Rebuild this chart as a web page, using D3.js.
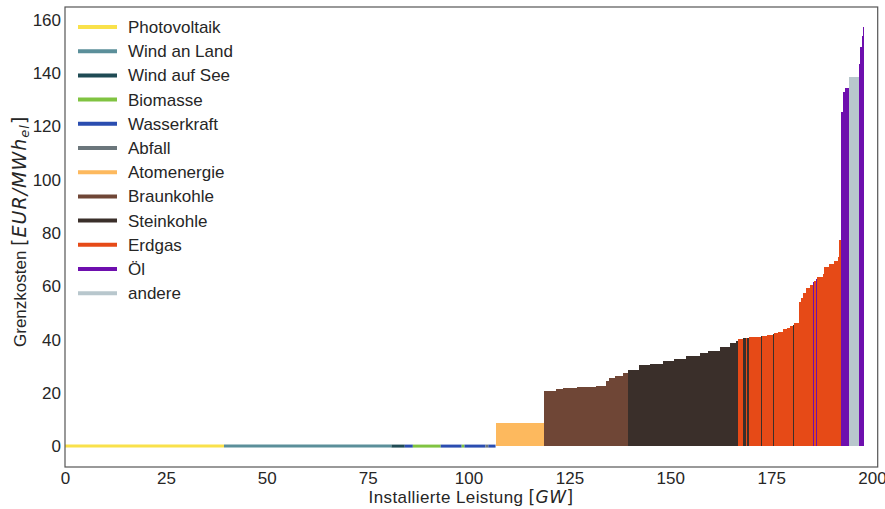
<!DOCTYPE html>
<html>
<head>
<meta charset="utf-8">
<script src="https://cdn.jsdelivr.net/npm/d3@7"></script>
<style>
  html, body { margin: 0; padding: 0; background: #fff; }
  svg { display: block; font-family: "Liberation Sans", Arial, sans-serif; }
</style>
</head>
<body>
<svg id="chart" width="885" height="509"></svg>
<script>
// Energy sources in merit order legend order, with their fill colours
const fuels = ["Photovoltaik", "Wind an Land", "Wind auf See", "Biomasse", "Wasserkraft",
  "Abfall", "Atomenergie", "Braunkohle", "Steinkohle", "Erdgas", "Öl", "andere"];
const fuelColors = ["#f9e14b", "#5b8f9a", "#1f4b54", "#80c341", "#2a4db0",
  "#6b767b", "#fdb95e", "#6f4636", "#3a2f2a", "#e64a17", "#6e0fae", "#b8c7cd"];

// Power plant blocks sorted by marginal cost: fuel, capacity [GW], marginal cost [EUR/MWh_el]
const blockFuel = [
  "Photovoltaik", "Wind an Land", "Wind auf See", "Wasserkraft", "Biomasse", "Wasserkraft",
  "Biomasse", "Wasserkraft", "Abfall", "Wasserkraft",
  "Atomenergie",
  "Braunkohle", "Braunkohle", "Braunkohle", "Braunkohle", "Braunkohle", "Braunkohle",
  "Braunkohle", "Braunkohle", "Braunkohle",
  "Steinkohle", "Steinkohle", "Steinkohle", "Steinkohle", "Steinkohle", "Steinkohle",
  "Steinkohle", "Steinkohle", "Steinkohle", "Steinkohle", "Steinkohle",
  "Erdgas", "Steinkohle", "Erdgas", "Steinkohle",
  "Erdgas", "Erdgas", "Steinkohle", "Erdgas", "Erdgas", "Steinkohle", "Erdgas", "Erdgas",
  "Erdgas", "Erdgas", "Erdgas", "Steinkohle", "Erdgas", "Erdgas", "Erdgas", "Erdgas",
  "Erdgas", "Erdgas", "Öl", "Erdgas", "Öl", "Erdgas", "Erdgas", "Erdgas", "Erdgas",
  "Erdgas", "Erdgas", "Erdgas",
  "Öl", "Öl", "Öl", "andere", "Öl", "Öl", "Öl", "Öl"
];
const blockCapacity = [
  39.4, 41.5, 3.3, 2.0, 6.9, 5.2,
  0.7, 5.2, 0.7, 1.8,
  12.0,
  3.0, 1.6, 3.6, 4.8, 2.4, 0.8,
  1.5, 2.0, 1.2,
  2.6, 2.7, 3.3, 2.7, 3.1, 3.3,
  2.0, 2.9, 2.5, 1.7, 0.5,
  1.2, 0.7, 0.3, 0.4,
  1.5, 1.5, 0.25, 1.25, 1.4, 0.25, 1.15, 1.1,
  0.9, 0.8, 0.9, 0.25, 1.15, 0.4, 0.6, 0.8,
  0.8, 0.8, 0.25, 0.55, 0.25, 1.45, 0.4, 1.2,
  1.2, 0.9, 0.4, 0.4,
  0.5, 0.6, 1.0, 2.4, 0.3, 0.3, 0.3, 0.4
];
const blockCost = [
  0, 0, 0, 0, 0, 0,
  0, 0, 0, 0,
  8.5,
  20.7, 21.3, 21.8, 22.2, 22.6, 24.3,
  25.6, 26.4, 27.4,
  28.6, 30.3, 31.0, 32.0, 32.8, 33.8,
  34.8, 35.8, 37.3, 38.6, 39.5,
  40.3, 40.5, 40.6, 40.7,
  40.8, 41.0, 41.2, 41.4, 41.8, 42.0, 42.3, 43.0,
  43.8, 44.4, 45.2, 45.6, 46.3, 54.2, 55.6, 57.5,
  59.2, 60.6, 61.6, 62.0, 62.6, 63.3, 64.5, 67.3,
  68.3, 69.5, 71.0, 77.5,
  125.6, 132.8, 134.4, 138.4, 143.5, 150.0, 154.0, 157.3
];

// Axis ticks
const xTicks = [0, 25, 50, 75, 100, 125, 150, 175, 200];
const yTicks = [0, 20, 40, 60, 80, 100, 120, 140, 160];

const colorOf = d3.scaleOrdinal(fuels, fuelColors);

// Cumulative capacity gives each block its start position on the x axis
let cum = 0;
const blocks = blockFuel.map((f, i) => {
  const b = { fuel: f, x0: cum, x1: cum + blockCapacity[i], cost: blockCost[i] };
  cum += blockCapacity[i];
  return b;
});

const svg = d3.select("#chart");
const plotLeft = 65, plotRight = 877.7, plotTop = 7, plotBottom = 467;
const textColor = "#262626";
const mathFont = "'DejaVu Sans', sans-serif";

const x = d3.scaleLinear([0, 201.4], [plotLeft, plotRight]);
const y = d3.scaleLinear([-7.85, 164.85], [plotBottom, plotTop]);

// Filled step blocks
svg.append("g")
  .attr("shape-rendering", "crispEdges")
  .selectAll("rect")
  .data(blocks)
  .join("rect")
  .attr("x", d => x(d.x0))
  .attr("width", d => Math.max(1, x(d.x1) - x(d.x0)))
  .attr("y", d => y(d.cost))
  .attr("height", d => y(0) - y(d.cost))
  .attr("fill", d => colorOf(d.fuel));

// Zero-cost blocks show up as a line along the cost axis origin
svg.append("g")
  .selectAll("line")
  .data(blocks.filter(d => d.cost === 0))
  .join("line")
  .attr("x1", d => x(d.x0))
  .attr("x2", d => x(d.x1))
  .attr("y1", d => y(d.cost))
  .attr("y2", d => y(d.cost))
  .attr("stroke", d => colorOf(d.fuel))
  .attr("stroke-width", 3);

// Axes without tick marks
const xAxis = svg.append("g")
  .attr("transform", `translate(0,${plotBottom})`)
  .call(d3.axisBottom(x).tickValues(xTicks).tickSize(0).tickPadding(5));
const yAxis = svg.append("g")
  .attr("transform", `translate(${plotLeft},0)`)
  .call(d3.axisLeft(y).tickValues(yTicks).tickSize(0).tickPadding(4));
[xAxis, yAxis].forEach(g => {
  g.select(".domain").remove();
  g.selectAll("text")
    .attr("font-size", 17)
    .attr("font-family", "'Liberation Sans', Arial, sans-serif")
    .attr("fill", textColor);
});

// Frame
svg.append("rect")
  .attr("x", plotLeft).attr("y", plotTop)
  .attr("width", plotRight - plotLeft).attr("height", plotBottom - plotTop)
  .attr("fill", "none")
  .attr("stroke", "#555")
  .attr("stroke-width", 1.2);

// Axis labels
const xLabel = svg.append("text")
  .attr("x", 471).attr("y", 503)
  .attr("text-anchor", "middle")
  .attr("font-size", 17)
  .attr("letter-spacing", 0.4)
  .attr("fill", textColor);
xLabel.append("tspan").text("Installierte Leistung ");
xLabel.append("tspan").attr("font-family", mathFont).text("[");
xLabel.append("tspan").attr("font-family", mathFont).attr("font-style", "italic").text("GW");
xLabel.append("tspan").attr("font-family", mathFont).text("]");

const yLabel = svg.append("text")
  .attr("transform", "translate(26,347) rotate(-90)")
  .attr("text-anchor", "start")
  .attr("font-size", 17)
  .attr("fill", textColor);
yLabel.append("tspan").text("Grenzkosten ");
const yMath = yLabel.append("tspan")
  .attr("font-family", mathFont)
  .attr("font-size", 19)
  .attr("letter-spacing", 1);
yMath.append("tspan").text("[");
yMath.append("tspan").attr("font-style", "italic").text("EUR/MWh");
yMath.append("tspan").attr("font-style", "italic").attr("font-size", 13).attr("dy", 3).text("el");
yMath.append("tspan").attr("dy", -3).text("]");

// Legend
const legend = svg.append("g");
const rows = legend.selectAll("g")
  .data(fuels)
  .join("g")
  .attr("transform", (d, i) => `translate(0,${27 + i * 24.2})`);
rows.append("line")
  .attr("x1", 78).attr("x2", 117)
  .attr("stroke", d => colorOf(d))
  .attr("stroke-width", 4);
rows.append("text")
  .attr("x", 128)
  .attr("dy", "0.35em")
  .attr("font-size", 17)
  .attr("fill", textColor)
  .text(d => d);
</script>
</body>
</html>
